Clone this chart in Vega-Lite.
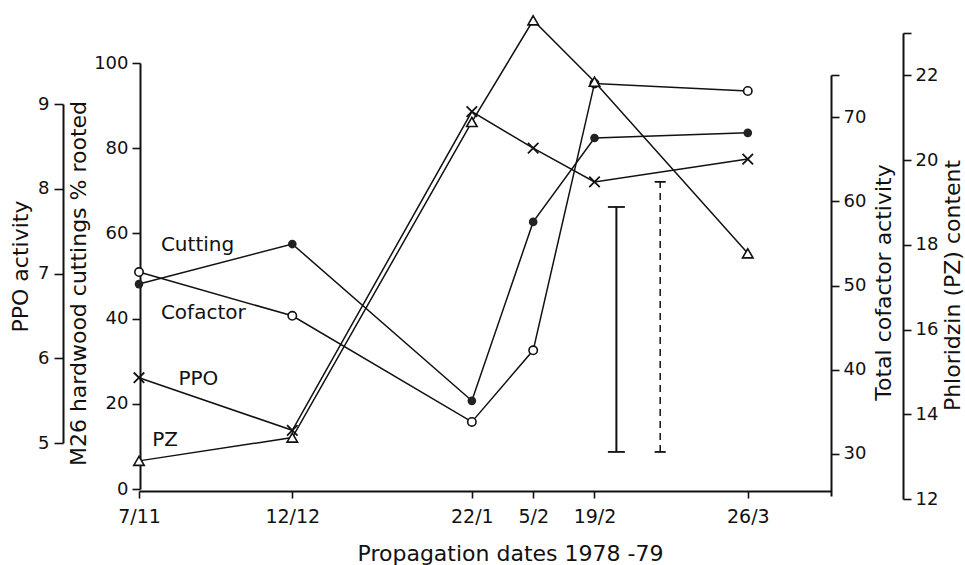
{
  "$schema": "https://vega.github.io/schema/vega-lite/v6.json",
  "width": 965,
  "height": 565,
  "autosize": {"type": "none"},
  "padding": 0,
  "background": "white",
  "config": {
    "font": "DejaVu Sans",
    "view": {"stroke": null},
    "axis": {
      "grid": false,
      "domainColor": "#111",
      "tickColor": "#111",
      "labelColor": "#111",
      "titleColor": "#111",
      "labelFont": "DejaVu Sans",
      "titleFont": "DejaVu Sans",
      "titleFontWeight": "normal",
      "domainWidth": 2,
      "tickWidth": 1.6,
      "labelFontSize": 18,
      "titleFontSize": 22,
      "labelFlush": false,
      "labelOverlap": false
    }
  },
  "datasets": {
    "readings": [
      {"date": "1978-11-07", "series": "Cutting", "value": 48.1},
      {"date": "1978-12-12", "series": "Cutting", "value": 57.5},
      {"date": "1979-01-22", "series": "Cutting", "value": 20.7},
      {"date": "1979-02-05", "series": "Cutting", "value": 62.7},
      {"date": "1979-02-19", "series": "Cutting", "value": 82.4},
      {"date": "1979-03-26", "series": "Cutting", "value": 83.6},
      {"date": "1978-11-07", "series": "Cofactor", "value": 51.6},
      {"date": "1978-12-12", "series": "Cofactor", "value": 46.4},
      {"date": "1979-01-22", "series": "Cofactor", "value": 33.8},
      {"date": "1979-02-05", "series": "Cofactor", "value": 42.3},
      {"date": "1979-02-19", "series": "Cofactor", "value": 74.0},
      {"date": "1979-03-26", "series": "Cofactor", "value": 73.1},
      {"date": "1978-11-07", "series": "PPO", "value": 5.77},
      {"date": "1978-12-12", "series": "PPO", "value": 5.15},
      {"date": "1979-01-22", "series": "PPO", "value": 8.91},
      {"date": "1979-02-05", "series": "PPO", "value": 8.48},
      {"date": "1979-02-19", "series": "PPO", "value": 8.08},
      {"date": "1979-03-26", "series": "PPO", "value": 8.35},
      {"date": "1978-11-07", "series": "PZ", "value": 12.9},
      {"date": "1978-12-12", "series": "PZ", "value": 13.45},
      {"date": "1979-01-22", "series": "PZ", "value": 20.9},
      {"date": "1979-02-05", "series": "PZ", "value": 23.3},
      {"date": "1979-02-19", "series": "PZ", "value": 21.85},
      {"date": "1979-03-26", "series": "PZ", "value": 17.8}
    ],
    "lsd": [
      {"date": "1979-02-24", "kind": "solid", "low": 8.7, "high": 66.2},
      {"date": "1979-03-06", "kind": "dashed", "low": 8.7, "high": 72.1}
    ],
    "labels": [
      {"date": "1978-11-12", "pct": 57.3, "label": "Cutting"},
      {"date": "1978-11-12", "pct": 41.3, "label": "Cofactor"},
      {"date": "1978-11-16", "pct": 25.8, "label": "PPO"},
      {"date": "1978-11-10", "pct": 11.5, "label": "PZ"}
    ]
  },
  "encoding": {
    "x": {
      "field": "date",
      "type": "temporal",
      "scale": {
        "type": "utc",
        "domain": [
          {"year": 1978, "month": 11, "date": 7, "utc": true},
          {"year": 1979, "month": 4, "date": 14, "utc": true}
        ],
        "range": [139, 831],
        "nice": false
      },
      "axis": {
        "orient": "bottom",
        "offset": -74,
        "values": [
          {"year": 1978, "month": 11, "date": 7, "utc": true},
          {"year": 1978, "month": 12, "date": 12, "utc": true},
          {"year": 1979, "month": 1, "date": 22, "utc": true},
          {"year": 1979, "month": 2, "date": 5, "utc": true},
          {"year": 1979, "month": 2, "date": 19, "utc": true},
          {"year": 1979, "month": 3, "date": 26, "utc": true}
        ],
        "labelExpr": "utcFormat(datum.value, '%-d/%-m')",
        "labelFontSize": 19,
        "tickSize": 7,
        "labelPadding": 9,
        "title": "Propagation dates 1978 -79",
        "titleX": 510,
        "titleY": 62,
        "titleAlign": "center",
        "titleBaseline": "middle"
      }
    }
  },
  "layer": [
    {
      "data": {"name": "readings"},
      "transform": [{"filter": "datum.series === 'Cutting'"}],
      "mark": {
        "type": "line",
        "color": "#111",
        "strokeWidth": 1.5,
        "point": {"shape": "circle", "filled": true, "color": "#222", "fill": "#222", "size": 75}
      },
      "encoding": {
        "y": {
          "field": "value",
          "type": "quantitative",
          "scale": {"domain": [0, 100], "range": [489, 63], "nice": false, "zero": false},
          "axis": {
            "orient": "left",
            "offset": -140,
            "values": [0, 20, 40, 60, 80, 100],
            "tickSize": 8,
            "labelPadding": 4,
            "title": "M26 hardwood cuttings % rooted",
            "titleAngle": 270,
            "titleX": -62,
            "titleY": 283,
            "titleAlign": "center",
            "titleBaseline": "middle"
          }
        }
      }
    },
    {
      "data": {"name": "readings"},
      "transform": [{"filter": "datum.series === 'PPO'"}],
      "mark": {
        "type": "line",
        "color": "#111",
        "strokeWidth": 1.5,
        "point": {"shape": "M-1,-1L1,1M1,-1L-1,1", "filled": false, "color": "#111", "stroke": "#111", "size": 110, "strokeWidth": 1.8}
      },
      "encoding": {
        "y": {
          "field": "value",
          "type": "quantitative",
          "scale": {"domain": [5, 9], "range": [443, 104], "nice": false, "zero": false},
          "axis": {
            "orient": "left",
            "offset": -63,
            "values": [5, 6, 7, 8, 9],
            "tickSize": 9,
            "labelPadding": 5,
            "title": "PPO activity",
            "titleAngle": 270,
            "titleX": -43,
            "titleY": 266,
            "titleAlign": "center",
            "titleBaseline": "middle"
          }
        }
      }
    },
    {
      "data": {"name": "readings"},
      "transform": [{"filter": "datum.series === 'Cofactor'"}],
      "mark": {
        "type": "line",
        "color": "#111",
        "strokeWidth": 1.5,
        "point": {"shape": "circle", "filled": true, "fill": "white", "stroke": "#111", "strokeWidth": 1.6, "size": 70}
      },
      "encoding": {
        "y": {
          "field": "value",
          "type": "quantitative",
          "scale": {"domain": [25, 75], "range": [496, 75], "nice": false, "zero": false},
          "axis": {
            "orient": "right",
            "offset": -134,
            "values": [30, 40, 50, 60, 70, 75],
            "labelExpr": "datum.value == 75 ? '' : datum.label",
            "tickSize": 8,
            "labelPadding": 4,
            "title": "Total cofactor activity",
            "titleAngle": 270,
            "titleX": 52,
            "titleY": 282,
            "titleAlign": "center",
            "titleBaseline": "middle"
          }
        }
      }
    },
    {
      "data": {"name": "readings"},
      "transform": [{"filter": "datum.series === 'PZ'"}],
      "mark": {
        "type": "line",
        "color": "#111",
        "strokeWidth": 1.5,
        "point": {"shape": "triangle-up", "filled": true, "fill": "white", "stroke": "#111", "strokeWidth": 1.6, "size": 110}
      },
      "encoding": {
        "y": {
          "field": "value",
          "type": "quantitative",
          "scale": {"domain": [12, 23], "range": [499, 33], "nice": false, "zero": false},
          "axis": {
            "orient": "right",
            "offset": -62,
            "values": [12, 14, 16, 18, 20, 22, 23],
            "labelExpr": "datum.value == 23 ? '' : datum.label",
            "tickSize": 8,
            "labelPadding": 4,
            "title": "Phloridzin (PZ) content",
            "titleAngle": 270,
            "titleX": 49,
            "titleY": 285,
            "titleAlign": "center",
            "titleBaseline": "middle"
          }
        }
      }
    },
    {
      "data": {"name": "lsd"},
      "layer": [
        {
          "mark": {"type": "rule", "color": "#111"},
          "encoding": {
            "y": {"field": "low", "type": "quantitative", "scale": {"domain": [0, 100], "range": [489, 63], "nice": false, "zero": false}, "axis": null},
            "y2": {"field": "high"},
            "strokeDash": {"field": "kind", "type": "nominal", "scale": {"domain": ["solid", "dashed"], "range": [[1, 0], [7, 5]]}, "legend": null},
            "strokeWidth": {"field": "kind", "type": "nominal", "scale": {"domain": ["solid", "dashed"], "range": [2, 1.5]}, "legend": null}
          }
        },
        {
          "mark": {"type": "point", "shape": "M-1,0L1,0", "filled": false, "color": "#111", "strokeWidth": 1.8, "opacity": 1},
          "encoding": {
            "y": {"field": "low", "type": "quantitative", "axis": null},
            "size": {"field": "kind", "type": "nominal", "scale": {"domain": ["solid", "dashed"], "range": [289, 121]}, "legend": null}
          }
        },
        {
          "mark": {"type": "point", "shape": "M-1,0L1,0", "filled": false, "color": "#111", "strokeWidth": 1.8, "opacity": 1},
          "encoding": {
            "y": {"field": "high", "type": "quantitative", "axis": null},
            "size": {"field": "kind", "type": "nominal", "scale": {"domain": ["solid", "dashed"], "range": [289, 100]}, "legend": null}
          }
        }
      ]
    },
    {
      "data": {"name": "labels"},
      "mark": {"type": "text", "align": "left", "baseline": "middle", "fontSize": 20, "font": "DejaVu Sans", "color": "#111"},
      "encoding": {
        "y": {"field": "pct", "type": "quantitative", "scale": {"domain": [0, 100], "range": [489, 63], "nice": false, "zero": false}, "axis": null},
        "text": {"field": "label"}
      }
    }
  ],
  "resolve": {"scale": {"y": "independent"}, "axis": {"y": "independent"}}
}
